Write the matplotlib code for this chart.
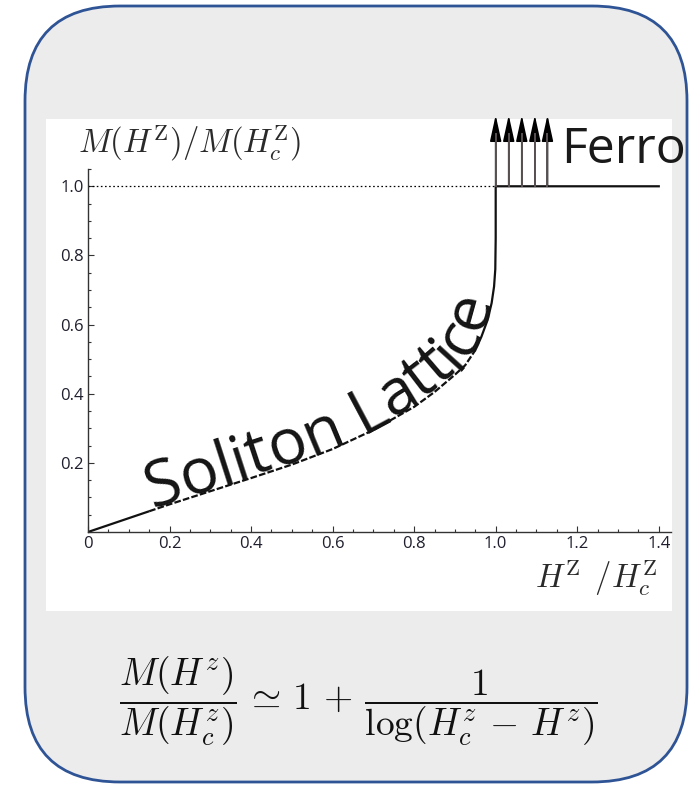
import numpy as np
import matplotlib
matplotlib.use("Agg")
import matplotlib.pyplot as plt
from matplotlib.patches import FancyBboxPatch, Rectangle

plt.rcParams['mathtext.fontset'] = 'cm'
plt.rcParams['font.family'] = ['Open Sans', 'DejaVu Sans']

# curva M(H)/M(Hc) frente a H/Hc
campo = [0, 0.1, 0.15, 0.2, 0.3, 0.4, 0.5, 0.6, 0.7, 0.8, 0.85, 0.9, 0.925,
         0.95, 0.965, 0.98, 0.99, 0.996, 0.999, 1.0, 1.0, 1.4]
magnet = [0, 0.04, 0.06, 0.08, 0.118, 0.156, 0.195, 0.24, 0.295, 0.362, 0.405,
          0.455, 0.482, 0.526, 0.565, 0.613, 0.662, 0.71, 0.76, 0.85, 1.0, 1.0]

xticks_val = [0, 0.2, 0.4, 0.6, 0.8, 1.0, 1.2, 1.4]
xticks_txt = ['0', '0.2', '0.4', '0.6', '0.8', '1.0', '1.2', '1.4']
yticks_val = [0.2, 0.4, 0.6, 0.8, 1.0]
yticks_txt = ['0.2', '0.4', '0.6', '0.8', '1.0']

flechas_x = [1.0, 1.032, 1.064, 1.096, 1.127]

W, H = 689, 788
fig = plt.figure(figsize=(W / 100, H / 100), dpi=100)

# fondo: caja redondeada gris y panel blanco
fondo = fig.add_axes([0, 0, 1, 1])
fondo.set_xlim(0, W)
fondo.set_ylim(H, 0)
fondo.axis('off')
fondo.add_patch(FancyBboxPatch((25, 6), 662, 776,
                               boxstyle='round,pad=0,rounding_size=95',
                               fc='#ececec', ec='#2f5496', lw=2))
fondo.add_patch(Rectangle((46, 119), 626, 492, fc='white', ec='none'))

ax = fig.add_axes([88 / W, 1 - 532 / H, (671 - 88) / W, (532 - 169) / H])
ax.patch.set_alpha(0)
ax.set_xlim(0, 1.43)
ax.set_ylim(0, 1.05)
for lado in ['top', 'right']:
    ax.spines[lado].set_visible(False)
for lado in ['left', 'bottom']:
    ax.spines[lado].set_color('#333333')
    ax.spines[lado].set_linewidth(1)

ax.set_xticks(xticks_val, xticks_txt)
ax.set_yticks(yticks_val, yticks_txt)
ax.set_xticks(np.arange(0, 1.43, 0.05), minor=True)
ax.set_yticks(np.arange(0, 1.06, 0.05), minor=True)
ax.tick_params(which='both', direction='in', color='#333333', width=0.8)
ax.tick_params(which='major', length=4.5, labelsize=12, labelcolor='#1f1f2e', pad=3)
ax.tick_params(which='minor', length=2.5)

# linea punteada de saturacion
ax.plot([0, 1], [1, 1], color='k', lw=0.9, ls=(0, (1.3, 2)))

# curva: tramo continuo, tramo bajo el texto discontinuo, tramo final continuo
xs = np.array(campo)
ys = np.array(magnet)
i0 = campo.index(0.15)
i1 = campo.index(0.95)
ax.plot(xs[:i0 + 1], ys[:i0 + 1], color='#111111', lw=1.6, solid_capstyle='butt')
ax.plot(xs[i0:i1 + 1], ys[i0:i1 + 1], color='#111111', lw=1.6, ls=(0, (3, 1)))
ax.plot(xs[i1:], ys[i1:], color='#111111', lw=1.6, clip_on=False)

# flechas del estado ferro
for fx in flechas_x:
    ax.annotate('', xy=(fx, 1.206), xytext=(fx, 1.0), annotation_clip=False,
                arrowprops=dict(arrowstyle='-|>,head_length=1.6,head_width=0.35',
                                mutation_scale=10, color='k', lw=1.2,
                                shrinkA=0, shrinkB=0))
    ax.plot([fx, fx], [1.0, 1.15], color='#5b5353', lw=1.4, clip_on=False, zorder=5)

ax.text(1.16, 1.066, 'Ferro', fontsize=36, color='#1a1a1a', va='baseline',
        clip_on=False)


def texto_en_curva(ax, xc, yc, texto, x_inicio, sep, **kw):
    r = ax.figure.canvas.get_renderer()
    pts = ax.transData.transform(np.column_stack([xc, yc]))
    s = np.concatenate([[0], np.cumsum(np.hypot(*np.diff(pts, axis=0).T))])
    pos = np.interp(x_inicio, xc, s)

    def ancho(cad):
        t = ax.text(0, 0, cad, **kw)
        w = t.get_window_extent(r).width
        t.remove()
        return w

    base = ancho('xx')
    inv = ax.transData.inverted()
    for ch in texto:
        w = ancho('x' + ch + 'x') - base
        if ch != ' ':
            sc = pos + w / 2
            px = np.interp(sc, s, pts[:, 0])
            py = np.interp(sc, s, pts[:, 1])
            ax_ = np.interp(sc - w / 2, s, pts[:, 0])
            ay_ = np.interp(sc - w / 2, s, pts[:, 1])
            bx_ = np.interp(sc + w / 2, s, pts[:, 0])
            by_ = np.interp(sc + w / 2, s, pts[:, 1])
            ang = np.degrees(np.arctan2(by_ - ay_, bx_ - ax_))
            nx, ny = -np.sin(np.radians(ang)), np.cos(np.radians(ang))
            dx, dy = inv.transform((px + sep * nx, py + sep * ny))
            ax.text(dx, dy, ch, rotation=ang, rotation_mode='anchor',
                    ha='center', va='baseline', **kw)
        pos += w


n_curva = campo.index(1.0) + 1
texto_en_curva(ax, xs[:n_curva], ys[:n_curva], 'Soliton Lattice', 0.16, 1.5,
               fontsize=46, color='#141414')

# etiquetas de los ejes y formula
fig.text(78 / W, 1 - 153 / H, r'$M(H^{\mathrm{Z}})/M(H^{\mathrm{Z}}_c)$',
         fontsize=23.5, color='#2a2a2a', va='baseline')
fig.text(657 / W, 1 - 588 / H, r'$H^{\mathrm{Z}}\;\,/H^{\mathrm{Z}}_c$',
         fontsize=23.5, color='#2a2a2a', ha='right', va='baseline')
fig.text(358 / W, 1 - 701 / H,
         r'$\dfrac{M(H^z)}{M(H^z_c)}\,\simeq\,1\,+\,\dfrac{1}{\log(H^z_c \,-\, H^z)}$',
         fontsize=27, color='#111111', ha='center', va='center')

fig.savefig('out.png', dpi=100)
